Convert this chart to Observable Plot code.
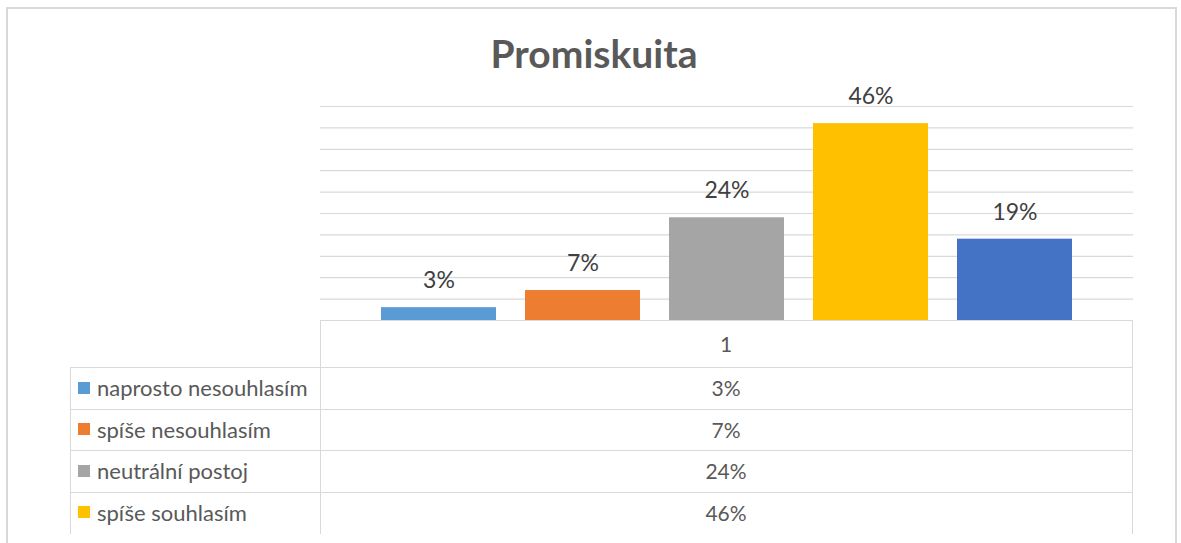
<!DOCTYPE html>
<html>
<head>
<meta charset="utf-8">
<script src="https://cdn.jsdelivr.net/npm/d3@7"></script>
<script src="https://cdn.jsdelivr.net/npm/@observablehq/plot@0.6"></script>
<style>
  html, body { margin: 0; padding: 0; background: #fff; }
  #wrap { position: relative; width: 1181px; height: 543px; overflow: hidden; font-family: Lato, "Open Sans", sans-serif; }
  #frame { position: absolute; left: 6px; top: 7px; width: 1171px; height: 560px; border: 2px solid #d9d9d9; box-sizing: border-box; }
  #title { position: absolute; left: 0; width: 1188px; top: 34px; text-align: center; font-size: 39px; line-height: 39px; font-weight: bold; color: #595959; }
  #chart { position: absolute; left: 0; top: 0; }
  #table { position: absolute; left: 70px; top: 320px; width: 1063px; height: 214px; overflow: hidden; }
  .cell { position: absolute; box-sizing: border-box; display: flex; align-items: center; color: #595959; }
  .hl { position: absolute; height: 0; border-top: 1.5px solid #d9d9d9; }
  .vl { position: absolute; width: 0; border-left: 1.5px solid #d9d9d9; }
</style>
</head>
<body>
<div id="wrap">
  <div id="frame"></div>
  <div id="title"></div>
  <div id="chart"></div>
  <div id="table"></div>
</div>
<script>
// ---- data ----
const title = "Promiskuita";
const categoryLabel = "1";
const series = ["naprosto nesouhlasím", "spíše nesouhlasím", "neutrální postoj", "spíše souhlasím", "naprosto souhlasím"];
const values = [3, 7, 24, 46, 19];           // percent
const colors = ["#5B9BD5", "#ED7D31", "#A5A5A5", "#FFC000", "#4472C4"];
const gridTicks = [0, 5, 10, 15, 20, 25, 30, 35, 40, 45, 50];

const data = series.map((s, i) => ({series: s, value: values[i]}));

document.getElementById("title").textContent = title;

const chart = Plot.plot({
  width: 1181,
  height: 330,
  marginLeft: 320,
  marginRight: 48,
  marginTop: 106,
  marginBottom: 10,
  style: {background: "transparent", fontFamily: "Lato, 'Open Sans', sans-serif"},
  x: {type: "band", domain: series, paddingInner: 0.2, paddingOuter: 0.41, axis: null},
  y: {domain: [0, 50], axis: null},
  color: {domain: series, range: colors},
  marks: [
    Plot.ruleY(gridTicks, {stroke: "#d9d9d9", strokeWidth: 1.2}),
    Plot.barY(data, {x: "series", y: "value", fill: "series"}),
    Plot.text(data, {x: "series", y: "value", text: d => d.value + "%", dy: -27, fontSize: 23, fill: "#404040"})
  ]
});
document.getElementById("chart").appendChild(chart);

// ---- data table (the visible part of the chart's data table) ----
const table = document.getElementById("table");
const colX = 250, colW = 812, headH = 47, rowH = 41.5, totalW = 1062, tableH = 214;
function add(cls, styles, text) {
  const el = document.createElement("div");
  el.className = cls;
  Object.assign(el.style, styles);
  if (text != null) el.textContent = text;
  table.appendChild(el);
  return el;
}
// header
add("cell", {left: colX + "px", top: "0px", width: colW + "px", height: headH + "px", justifyContent: "center", fontSize: "21px"}, categoryLabel);
add("vl", {left: colX + "px", top: "0px", height: tableH + "px"});
add("vl", {left: (colX + colW) + "px", top: "0px", height: tableH + "px"});
add("vl", {left: "0px", top: (headH) + "px", height: tableH + "px"});
add("hl", {left: colX + "px", top: "0px", width: colW + "px"});
series.forEach((s, i) => {
  const top = headH + i * rowH;
  if (top + rowH > tableH + 1) return; // row lies beyond the visible part
  add("hl", {left: "0px", top: top + "px", width: totalW + "px"});
  const lab = add("cell", {left: "8px", top: top + "px", width: (colX - 8) + "px", height: rowH + "px", fontSize: "22px", whiteSpace: "nowrap"});
  const sw = document.createElement("span");
  Object.assign(sw.style, {display: "inline-block", width: "12px", height: "12px", background: colors[i], marginRight: "7px", flex: "none"});
  lab.appendChild(sw);
  lab.appendChild(document.createTextNode(s));
  add("cell", {left: colX + "px", top: top + "px", width: colW + "px", height: rowH + "px", justifyContent: "center", fontSize: "21px"}, values[i] + "%");
});
</script>
</body>
</html>
